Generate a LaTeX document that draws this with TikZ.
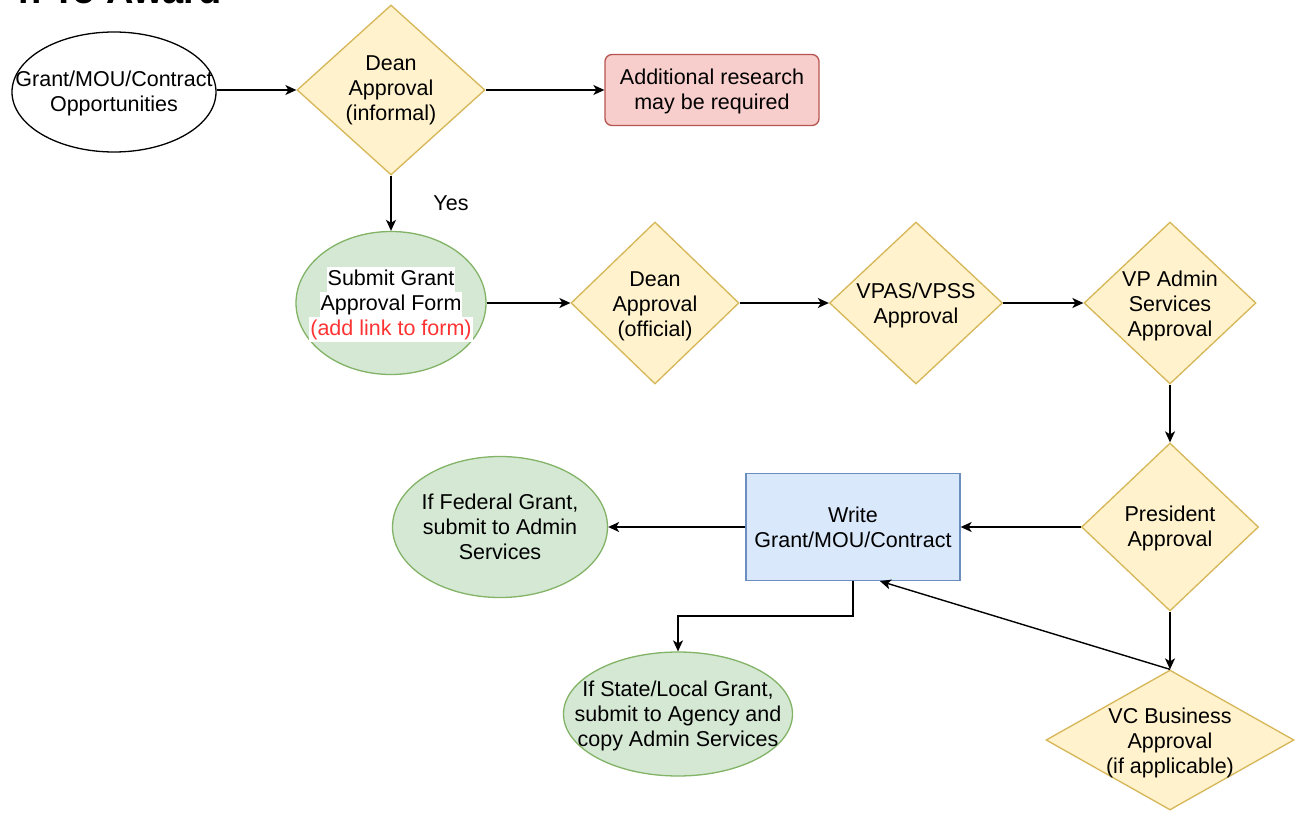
\documentclass[tikz,border=0pt]{standalone}
\usepackage{fontspec}
\setmainfont{Liberation Sans}
\usetikzlibrary{shapes.geometric,arrows.meta,calc}
\definecolor{yfill}{HTML}{FFF2CC}
\definecolor{ydraw}{HTML}{D6B656}
\definecolor{gfill}{HTML}{D5E8D4}
\definecolor{gdraw}{HTML}{82B366}
\definecolor{bfill}{HTML}{DAE8FC}
\definecolor{bdraw}{HTML}{6C8EBF}
\definecolor{rfill}{HTML}{F8CECC}
\definecolor{rdraw}{HTML}{B85450}
\definecolor{linkred}{HTML}{FF3333}
\newcommand{\wline}[1]{\colorbox{white}{\rule[-6pt]{0pt}{25pt}\hspace{1pt}#1\hspace{1pt}}}
\begin{document}
\begin{tikzpicture}[x=1pt,y=-1pt,
  lbl/.style={align=center,font=\fontsize{21.5}{25}\selectfont,inner sep=0pt},
  txt/.style 2 args={label={[lbl,yshift=#1]center:#2}},
  dia/.style={diamond,draw=ydraw,fill=yfill,line width=1.3pt,inner sep=0pt},
  ell/.style={ellipse,draw=gdraw,fill=gfill,line width=1.3pt,inner sep=0pt},
  arr/.style={draw=black,line width=1.4pt,-{Stealth[length=11pt,width=10pt,inset=3pt]}}
]
\useasboundingbox (0,0) rectangle (1296,813);
\fill[white] (0,0) rectangle (1296,813);
% title (cut off at top)
\node[anchor=base east,inner sep=0pt,font=\fontsize{38}{44}\selectfont\bfseries] (title) at (222,3.5) {n To Award};

\node[ellipse,draw=black,fill=white,line width=1.3pt,inner sep=0pt,minimum width=204pt,minimum height=120pt,
  txt={-1pt}{Grant/MOU/Contract\\Opportunities}] (opp) at (114,92) {};
\node[dia,minimum width=188pt,minimum height=170pt,txt={0pt}{Dean\\Approval\\(informal)}] (dean1) at (391,90) {};
\node[rectangle,rounded corners=7pt,draw=rdraw,fill=rfill,line width=1.3pt,minimum width=214pt,minimum height=71pt,
  txt={-1.5pt}{Additional research\\may be required}] (addl) at (712,90) {};

\node[ell,minimum width=190pt,minimum height=143pt,
  label={[lbl,font=\fontsize{21.5}{25}\selectfont\setlength{\fboxsep}{0pt},yshift=-1pt]center:{\wline{Submit Grant}\\\wline{Approval Form}\\\wline{\color{linkred}(add link to form)}}}] (submit) at (391,303) {};
\node[dia,minimum width=168pt,minimum height=162pt,txt={-3pt}{Dean\\Approval\\(official)}] (dean2) at (655,303) {};
\node[dia,minimum width=173pt,minimum height=162pt,txt={-2.5pt}{VPAS/VPSS\\Approval}] (vpas) at (916,303) {};
\node[dia,minimum width=172pt,minimum height=162pt,txt={-3pt}{VP Admin\\Services\\Approval}] (vpadmin) at (1170,303) {};

\node[dia,minimum width=177pt,minimum height=168pt,txt={-1.5pt}{President\\Approval}] (pres) at (1170,527) {};
\node[rectangle,draw=bdraw,fill=bfill,line width=1.3pt,minimum width=214pt,minimum height=107pt,
  txt={0pt}{Write\\Grant/MOU/Contract}] (write) at (853,527) {};
\node[ell,minimum width=215pt,minimum height=141pt,txt={0pt}{If Federal Grant,\\submit to Admin\\Services}] (fed) at (500,527) {};
\node[dia,minimum width=248pt,minimum height=140pt,txt={-3pt}{VC Business\\Approval\\(if applicable)}] (vc) at (1170,740) {};
\node[ell,minimum width=229pt,minimum height=124pt,txt={-2pt}{If State/Local Grant,\\submit to Agency and\\copy Admin Services}] (state) at (678,714) {};

\draw[arr] (dean1.west -| opp.east) -- (dean1.west);
\draw[arr] (dean1) -- (addl);
\draw[arr] (dean1.south) -- node[lbl,pos=0.5,xshift=60pt] (yes) {Yes} (submit.north);
\draw[arr] (submit) -- (dean2);
\draw[arr] (dean2) -- (vpas);
\draw[arr] (vpas) -- (vpadmin);
\draw[arr] (vpadmin) -- (pres);
\draw[arr] (pres) -- (write);
\draw[arr] (write) -- (fed);
\draw[arr] (pres) -- (vc);
\draw[arr] (vc.north) -- ([xshift=27pt]write.south);
\draw[arr] (write.south) -- ++(0,35) -| (state.north);
\end{tikzpicture}
\end{document}
